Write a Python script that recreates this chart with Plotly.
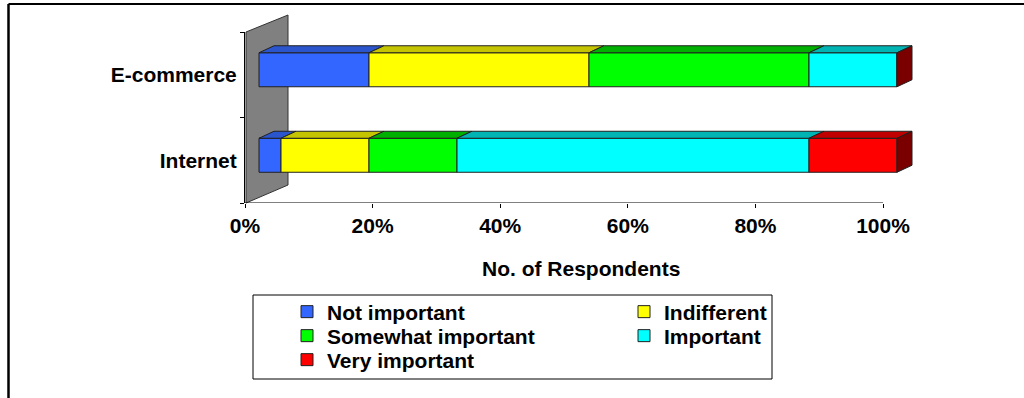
import plotly.graph_objects as go

# ---------------- data ----------------
categories = ["Internet", "E-commerce"]
series_names = ["Not important", "Indifferent", "Somewhat important", "Important", "Very important"]
not_important = [1, 5]
indifferent = [4, 10]
somewhat_important = [4, 10]
important = [16, 4]
very_important = [4, 0]
x_tick_values = [0, 20, 40, 60, 80, 100]
x_tick_labels = ["0%", "20%", "40%", "60%", "80%", "100%"]
x_title = "No. of Respondents"

# ---------------- styles ----------------
front_colors = ["#3366FF", "#FFFF00", "#00FF00", "#00FFFF", "#FF0000"]
top_colors = ["#2A55CC", "#C4C400", "#00B000", "#00B4B4", "#C00000"]
side_color = "#7A0000"
edge = "#202020"
FONT = "Liberation Sans, Arial, sans-serif"
W, H = 1024, 398


def px(x):
    return x / W


def py(y):
    return 1 - y / H


series_values = [not_important, indifferent, somewhat_important, important, very_important]
totals = [sum(s[j] for s in series_values) for j in range(len(categories))]
series_pct = [[s[j] / totals[j] * 100 for j in range(len(categories))] for s in series_values]
ypos = list(range(len(categories)))

# 3D styling (pixel-derived offsets, expressed in axis units)
px_per_pct = 6.38
px_per_cat = 85.5
bar_w = 34 / px_per_cat
shift_x = 14 / px_per_pct      # bars sit in the middle of the depth
shift_y = 5 / px_per_cat
dx = 15 / px_per_pct           # depth of the bar top/side faces
dy = 7 / px_per_cat
x_max = 105

fig = go.Figure()
legend_ids = ["legend", "legend2", "legend3", "legend4", "legend5"]

cum = [0.0] * len(categories)
bases = []
for i in range(len(series_names)):
    bases.append([cum[j] + shift_x for j in range(len(categories))])
    cum = [cum[j] + series_pct[i][j] for j in range(len(categories))]
bar_y = [y + shift_y for y in ypos]

for i, name in enumerate(series_names):
    fig.add_trace(go.Bar(
        y=bar_y, x=series_pct[i], base=bases[i], orientation="h", name=name, width=bar_w,
        marker=dict(color=front_colors[i], line=dict(color=edge, width=1)),
        legend=legend_ids[i], hovertemplate=name + ": %{x:.1f}%<extra></extra>",
    ))

# top faces
for i, name in enumerate(series_names):
    xs, ys = [], []
    for j in range(len(categories)):
        if series_pct[i][j] <= 0:
            continue
        x0 = bases[i][j]
        x1 = x0 + series_pct[i][j]
        yt = bar_y[j] + bar_w / 2
        xs += [x0, x1, x1 + dx, x0 + dx, x0, None]
        ys += [yt, yt, yt + dy, yt + dy, yt, None]
    fig.add_trace(go.Scatter(
        x=xs, y=ys, mode="lines", fill="toself", fillcolor=top_colors[i],
        line=dict(color=edge, width=1), showlegend=False, hoverinfo="skip",
    ))

# end (side) faces
xs, ys = [], []
for j in range(len(categories)):
    xe = cum[j] + shift_x
    yb = bar_y[j] - bar_w / 2
    yt = bar_y[j] + bar_w / 2
    xs += [xe, xe, xe + dx, xe + dx, xe, None]
    ys += [yb, yt, yt + dy, yb + dy, yb, None]
fig.add_trace(go.Scatter(
    x=xs, y=ys, mode="lines", fill="toself", fillcolor=side_color,
    line=dict(color=edge, width=1), showlegend=False, hoverinfo="skip",
))

tick_font = dict(family=FONT, size=21, color="#000000", weight="bold")

legend_pos = [(287, 312), (624, 312), (287, 336), (624, 336), (287, 360)]
legends = {}
for lid, (lx, ly) in zip(legend_ids, legend_pos):
    legends[lid] = dict(
        x=px(lx), y=py(ly), xanchor="left", yanchor="middle",
        bgcolor="rgba(0,0,0,0)", borderwidth=0,
        font=dict(family=FONT, size=21, color="#000000", weight="bold"),
    )

# back wall
wall = [(246, 203), (246, 32), (288, 15), (288, 185)]
wall_path = "M " + " L ".join(f"{px(a)},{py(b)}" for a, b in wall) + " Z"

fig.update_layout(
    width=W, height=H,
    margin=dict(l=0, r=0, t=0, b=0, autoexpand=False),
    paper_bgcolor="#FFFFFF", plot_bgcolor="rgba(0,0,0,0)",
    barmode="overlay",
    font=dict(family=FONT, color="#000000"),
    xaxis=dict(domain=[px(245), px(245 + x_max * px_per_pct)], range=[0, x_max],
               tickmode="array", tickvals=x_tick_values, ticktext=x_tick_labels,
               ticks="outside", ticklen=4, tickcolor="#000000",
               showline=False, showgrid=False, zeroline=False, automargin=False,
               tickfont=tick_font, fixedrange=True),
    yaxis=dict(domain=[py(203), py(32)], range=[-0.5, 1.5],
               tickmode="array", tickvals=ypos, ticktext=categories,
               ticks="", showline=True, linecolor="#000000", linewidth=1,
               minor=dict(tickmode="array", tickvals=[-0.5, 0.5, 1.5], ticks="outside",
                          ticklen=4, tickcolor="#000000"),
               showgrid=False, zeroline=False, automargin=False, tickfont=tick_font,
               ticklabelstandoff=3, fixedrange=True),
    shapes=[
        dict(type="path", path=wall_path, xref="paper", yref="paper",
             fillcolor="#808080", line=dict(color="#333333", width=1), layer="below"),
        dict(type="line", xref="x", yref="y", x0=0, x1=100, y0=-0.5, y1=-0.5,
             line=dict(color="#000000", width=1)),
        dict(type="line", xref="paper", yref="paper", x0=px(8.5), y0=py(4), x1=1, y1=py(4),
             line=dict(color="#000000", width=2)),
        dict(type="line", xref="paper", yref="paper", x0=px(8.5), y0=py(4), x1=px(8.5), y1=0,
             line=dict(color="#000000", width=2.5)),
        dict(type="rect", xref="paper", yref="paper", x0=px(253), y0=py(295), x1=px(772), y1=py(379),
             line=dict(color="#000000", width=1), fillcolor="rgba(0,0,0,0)"),
    ],
    annotations=[
        dict(text=x_title, x=px(581), y=py(268), xref="paper", yref="paper",
             showarrow=False, xanchor="center", yanchor="middle",
             font=dict(family=FONT, size=21, color="#000000", weight="bold")),
    ],
    **legends,
)

fig.write_html("out.html", config={"displayModeBar": False},
               post_script="document.body.style.margin='0px';")
